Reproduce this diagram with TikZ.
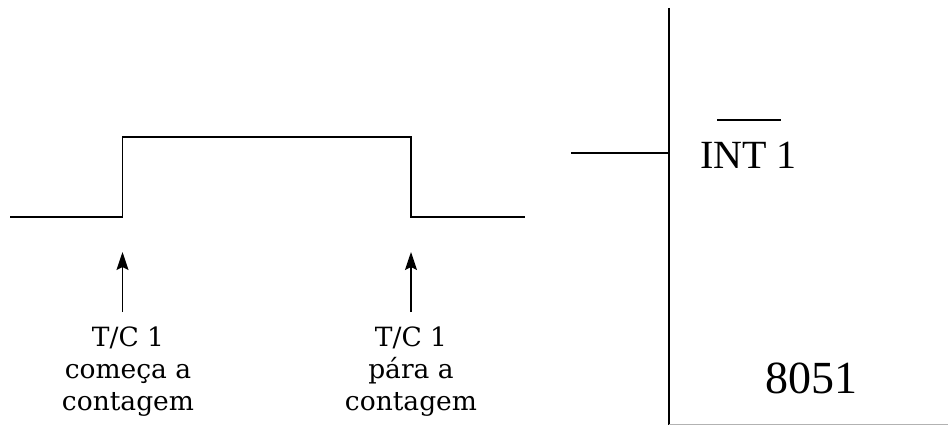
\documentclass[tikz,border=0pt]{standalone}
\usepackage{fontspec}
\setmainfont{Liberation Serif}
\newfontfamily\labfont{DejaVu Serif}
\usetikzlibrary{arrows.meta}
\begin{document}
\begin{tikzpicture}[x=1pt,y=-1pt,
  wire/.style={line width=1.8pt,black},
  uparrow/.style={line width=1.6pt,-{Stealth[length=18pt,width=12pt,inset=3pt]}},
  lab/.style={inner sep=0pt,align=center,font=\labfont\fontsize{26.5}{32}\selectfont},
  chiptext/.style={inner sep=0pt,anchor=base west}]
\useasboundingbox (0,0) rectangle (948,425);
% waveform
\coordinate (w0) at (10,217);
\coordinate (w1) at (122.5,217);
\coordinate (w2) at (122.5,137);
\coordinate (w3) at (411,137);
\coordinate (w4) at (411,217);
\coordinate (w5) at (525,217);
\draw[wire] (w0) -- (w1) -- (w2) -- (w3) -- (w4) -- (w5);
% labels and arrows
\node[lab,anchor=north] (lab1) at (128,327) {T/C 1\\começa a\\contagem};
\node[lab,anchor=north] (lab2) at (411,327) {T/C 1\\pára a\\contagem};
\coordinate (tip1) at (122.5,252);
\coordinate (tip2) at (411,252);
\coordinate (tail1) at (122.5,312);
\coordinate (tail2) at (411,312);
\draw[uparrow] (tail1) -- (tip1);
\draw[uparrow] (tail2) -- (tip2);
% chip
\coordinate (chipTop) at (669,8);
\coordinate (chipBot) at (669,425);
\coordinate (chipBR) at (948,424.5);
\coordinate (pinL) at (571,153);
\coordinate (pinR) at (669,153);
\draw[wire] (chipTop) -- (chipBot);
\draw[line width=0.8pt,gray!60] (669,424.5) -- (chipBR);
\draw[wire] (pinL) -- (pinR);
\node[chiptext,font=\fontsize{40}{48}\selectfont] (int) at (700,168) {INT 1};
\coordinate (olA) at (717,120);
\coordinate (olB) at (781,120);
\draw[line width=1.3pt] (olA) -- (olB);
\node[chiptext,font=\fontsize{46}{55}\selectfont] (chip) at (765,393) {8051};
\end{tikzpicture}
\end{document}
